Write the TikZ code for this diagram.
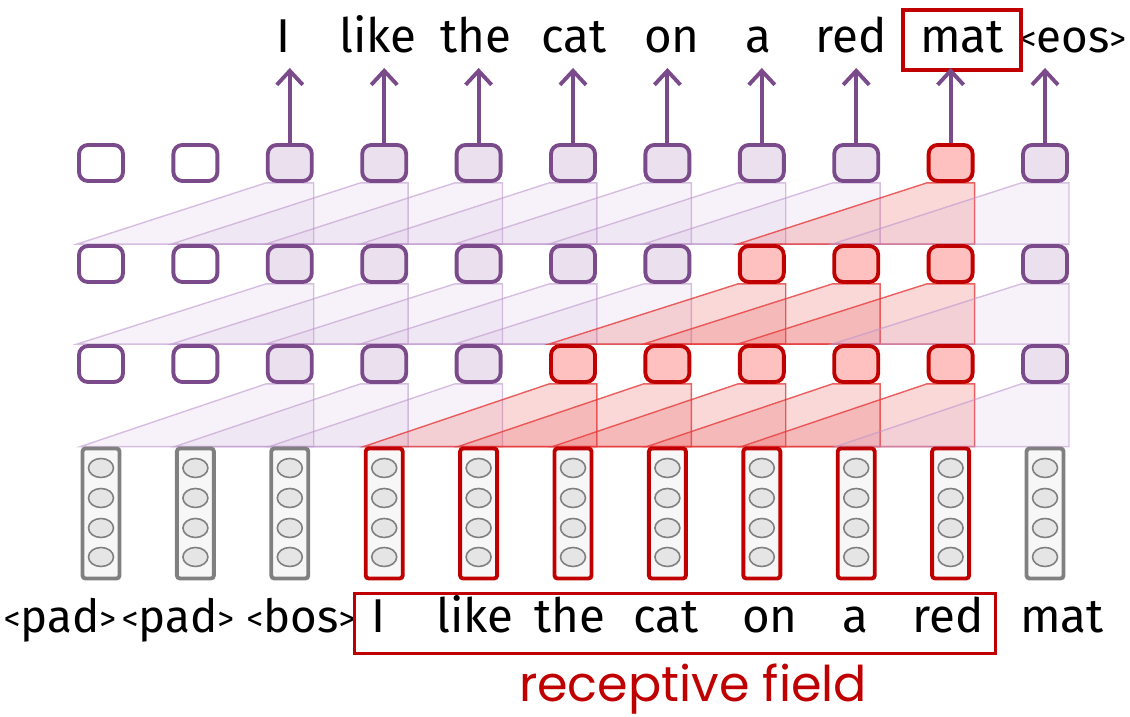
\documentclass[tikz,border=0pt]{standalone}
\usepackage{fontspec}
\setmainfont{Fira Sans}
\newfontfamily\fieldfont{Poppins}
\usetikzlibrary{arrows.meta,backgrounds,positioning}

\definecolor{plum}{RGB}{123,74,138}
\definecolor{plumfill}{RGB}{234,224,238}
\definecolor{plumfan}{RGB}{190,150,205}
\definecolor{darkred}{RGB}{192,0,0}
\definecolor{hotfill}{RGB}{255,192,192}
\definecolor{hotfan}{RGB}{230,60,60}

% special tokens with small angle brackets
\newcommand{\tok}[1]{{\fontsize{13}{16}\selectfont\raisebox{0.6pt}{\fontsize{9.5}{11}\selectfont<}#1\raisebox{0.6pt}{\fontsize{9.5}{11}\selectfont>}}}

\tikzset{
    unit/.style={draw=plum, line width=1.1pt, rounded corners=0.9mm, fill=plumfill,
        minimum width=0.44cm, minimum height=0.36cm, inner sep=0pt},
    blank/.style={unit, fill=white},
    hot/.style={unit, draw=darkred, fill=hotfill},
    vec/.style={draw=gray, line width=1.1pt, rounded corners=0.3mm, fill=black!3,
        minimum width=0.37cm, minimum height=1.30cm, inner sep=0pt},
    hotvec/.style={vec, draw=darkred},
    cell/.style={draw=gray, line width=0.45pt, fill=black!10},
    fan/.style={draw=plumfan, draw opacity=0.6, line width=0.4pt, fill=plumfan, fill opacity=0.12},
    hotfan/.style={draw=hotfan, draw opacity=0.8, line width=0.4pt, fill=hotfan, fill opacity=0.2},
    word/.style={font=\fontsize{13.5}{16}\selectfont, text height=0.36cm, text depth=0.1cm,
        inner sep=0pt, anchor=base},
    >={Straight Barb[length=1.4mm,width=2.6mm]}
}

\begin{document}
\begin{tikzpicture}
    \useasboundingbox (0,0) rectangle (11.3,7.17);

    % embeddings
    \foreach \i in {0,...,10} {
        \ifnum\i<3 \def\sty{vec}\else \ifnum\i<10 \def\sty{hotvec}\else \def\sty{vec}\fi\fi
        \node[\sty] (l0-\i) at (1.01+0.944*\i, 2.035) {};
        \foreach \dy in {0.455,0.155,-0.145,-0.435}
            \draw[cell] ([yshift=\dy cm]l0-\i.center) ellipse [x radius=0.125, y radius=0.095];
    }

    % conv layers, red from column \first on
    \foreach \lay/\first/\yy in {1/5/3.53, 2/7/4.53, 3/9/5.54} {
        \foreach \i in {0,...,10} {
            \ifnum\i<2 \def\sty{blank}\else
                \ifnum\i<\first \def\sty{unit}\else
                    \ifnum\i<10 \def\sty{hot}\else \def\sty{unit}\fi\fi\fi
            \node[\sty] (l\lay-\i) at (1.01+0.944*\i, \yy) {};
        }
    }

    % kernel fans (width 3)
    \begin{scope}[on background layer]
        \foreach \lay/\first in {1/5, 2/7, 3/9} {
            \pgfmathtruncatemacro{\low}{\lay-1}
            \foreach \i in {2,...,10} {
                \pgfmathtruncatemacro{\k}{\i-2}
                \ifnum\i<\first \def\sty{fan}\else \ifnum\i<10 \def\sty{hotfan}\else \def\sty{fan}\fi\fi
                \filldraw[\sty] (l\lay-\i.south west) -- (l\low-\k.north west)
                    -- (l\lay-\i.south east |- l\low-\i.north) -- (l\lay-\i.south east) -- cycle;
            }
        }
    \end{scope}

    % predictions
    \foreach \i/\w/\xx in {2/I/2.83, 3/like/3.78, 4/the/4.76, 5/cat/5.74, 6/on/6.72,
                           7/a/7.58, 8/red/8.51, 10/{\tok{eos}}/10.73}
        \node[word] (out-\i) at (\xx, 6.64) {\w};
    \node[word, draw=darkred, line width=1.1pt, inner xsep=0.17cm, inner ysep=0.07cm]
        (out-9) at (9.62, 6.64) {mat};
    \foreach \i in {2,...,10} {
        \coordinate (tip-\i) at (1.01+0.944*\i, 6.49);
        \draw[->, plum, line width=1.1pt] (l3-\i.north) -- (tip-\i);
    }

    % inputs
    \foreach \i/\w/\xx in {0/{\tok{pad}}/0.60, 1/{\tok{pad}}/1.78, 2/{\tok{bos}}/3.01, 3/I/3.78,
                           4/like/4.75, 5/the/5.70, 6/cat/6.66, 7/on/7.70, 8/a/8.55,
                           9/red/9.48, 10/mat/10.62}
        \node[word] (in-\i) at (\xx, 0.84) {\w};

    \node[draw=darkred, line width=1.1pt, minimum width=6.41cm, minimum height=0.60cm]
        (field) at (6.75, 0.935) {};
    \node[font=\fieldfont\fontsize{14}{16}\selectfont, text=darkred, anchor=base, inner sep=0pt]
        (rf) at (6.93, 0.15) {receptive field};
\end{tikzpicture}
\end{document}
